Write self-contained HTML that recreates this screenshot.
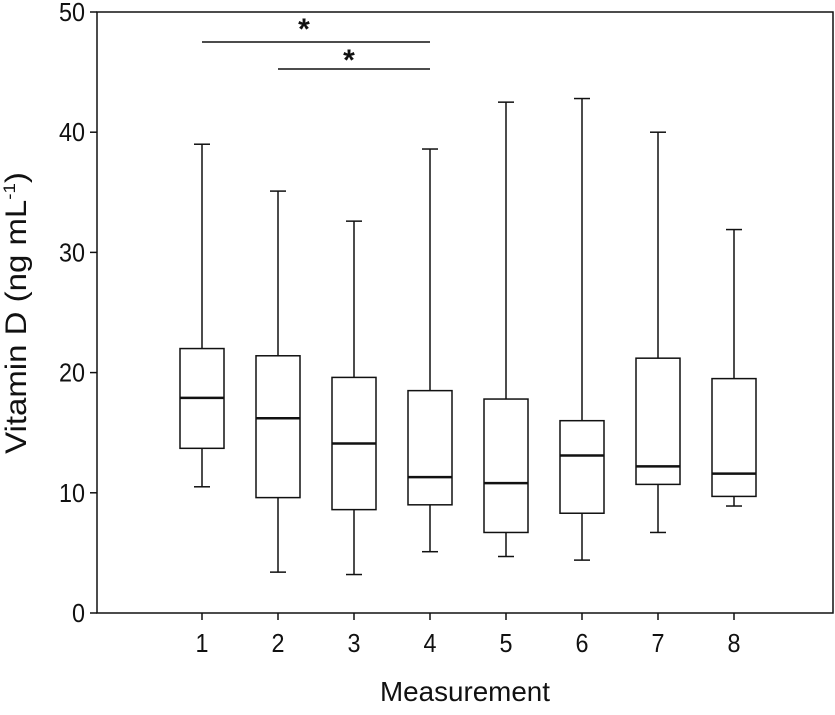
<!DOCTYPE html>
<html><head><meta charset="utf-8"><style>
body{margin:0;background:#fff}
svg text{font-family:"Liberation Sans Narrow","Liberation Sans",sans-serif;fill:#111}
</style></head><body>
<svg id="chart" width="835" height="710">
<g id="axes"></g><g id="boxes"></g><g id="sig"></g>
</svg>
<script>
const categories=["1","2","3","4","5","6","7","8"];
const whiskerMin=[10.5,3.4,3.2,5.1,4.7,4.4,6.7,8.9];
const q1=[13.7,9.6,8.6,9.0,6.7,8.3,10.7,9.7];
const medians=[17.9,16.2,14.1,11.3,10.8,13.1,12.2,11.6];
const q3=[22.0,21.4,19.6,18.5,17.8,16.0,21.2,19.5];
const whiskerMax=[39.0,35.1,32.6,38.6,42.5,42.8,40.0,31.9];
const yTicks=[0,10,20,30,40,50];
const sigPairs=[[0,3],[1,3]];
const NS="http://www.w3.org/2000/svg";
const L=97,R=833,T=12,B=613;
const y=v=>B-(v-0)/(50-0)*(B-T);
const x=i=>202+i*76;
function mk(tag,attrs,parent,text){const e=document.createElementNS(NS,tag);for(const k in attrs)e.setAttribute(k,attrs[k]);if(text!==undefined)e.textContent=text;parent.appendChild(e);return e;}
const ax=document.getElementById('axes'),bx=document.getElementById('boxes'),sg=document.getElementById('sig');
const frame=mk('rect',{x:L,y:T,width:R-L,height:B-T,fill:'none',stroke:'#111','stroke-width':1.5},ax);


yTicks.forEach(t=>{
 const ln=mk('line',{x1:L-7,x2:L,y1:y(t),y2:y(t),stroke:'#111','stroke-width':1.5},ax);
 
 
 const s=String(t);
 const tx=mk('text',{x:L-12,y:y(t)+9,'text-anchor':'end','font-size':26,textLength:13*s.length,lengthAdjust:'spacingAndGlyphs'},ax,s);
 
 
});
categories.forEach((c,i)=>{
 const ln=mk('line',{x1:x(i),x2:x(i),y1:B,y2:B+7,stroke:'#111','stroke-width':1.5},ax);
 
 
 const tx=mk('text',{x:x(i),y:B+39,'text-anchor':'middle','font-size':26,textLength:13,lengthAdjust:'spacingAndGlyphs'},ax,c);
 
 
 const g=mk('g',{},bx);
 
 
 const s={stroke:'#111','stroke-width':1.5,fill:'none'};
 mk('line',{x1:x(i),x2:x(i),y1:y(whiskerMax[i]),y2:y(q3[i]),...s},g);
 mk('line',{x1:x(i),x2:x(i),y1:y(q1[i]),y2:y(whiskerMin[i]),...s},g);
 mk('line',{x1:x(i)-8,x2:x(i)+8,y1:y(whiskerMax[i]),y2:y(whiskerMax[i]),...s},g);
 mk('line',{x1:x(i)-8,x2:x(i)+8,y1:y(whiskerMin[i]),y2:y(whiskerMin[i]),...s},g);
 mk('rect',{x:x(i)-22,y:y(q3[i]),width:44,height:y(q1[i])-y(q3[i]),...s},g);
 mk('line',{x1:x(i)-22,x2:x(i)+22,y1:y(medians[i]),y2:y(medians[i]),stroke:'#111','stroke-width':2.5},g);
});
const sigY=[42,69];
const starX=[304,349];
sigPairs.forEach((p,k)=>{
 const ln=mk('line',{x1:x(p[0]),x2:x(p[1]),y1:sigY[k],y2:sigY[k],stroke:'#111','stroke-width':1.5},sg);
 
 
 const tx=mk('text',{x:starX[k],y:sigY[k]+(k?1:-3),'text-anchor':'middle','font-size':30,'font-weight':'bold'},sg,'*');
 
 
});
const xt=mk('text',{x:(L+R)/2,y:701,'text-anchor':'middle','font-size':28,textLength:170,lengthAdjust:'spacingAndGlyphs'},ax,'Measurement');


const yt=mk('text',{x:0,y:0,'text-anchor':'middle','font-size':30,transform:'translate(26,313) rotate(-90) scale(1.1,1)'},ax);


yt.innerHTML='Vitamin D (ng mL<tspan dy="-11" font-size="17">-1</tspan><tspan dy="11">)</tspan>';
</script>
</body></html>
